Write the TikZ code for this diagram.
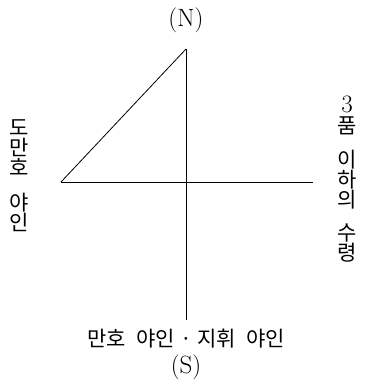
\documentclass[tikz,border=0pt]{standalone}
\usepackage{fontspec}
\newfontfamily\kr{Noto Sans CJK KR}
\tikzset{
  axis/.style={line width=0.8pt, black},
  krtext/.style={font=\kr\fontsize{21}{20}\selectfont, inner sep=0pt, align=center},
  dirlabel/.style={font=\fontsize{25}{27}\selectfont, inner sep=0pt}
}
\begin{document}
\begin{tikzpicture}[x=1pt,y=-1pt]
\useasboundingbox (0,0) rectangle (365,386);
\coordinate (top) at (186,49);
\coordinate (center) at (186,182);
\coordinate (bottom) at (186,320);
\coordinate (west) at (61,182);
\coordinate (east) at (313,182);
\draw[axis] (top) -- (bottom);
\draw[axis] (west) -- (east);
\draw[axis] (west) -- (top);
\node[dirlabel] (n) at (186,20) {(N)};
\node[dirlabel] (s) at (186,367) {(S)};
\node[krtext] (sl) at (186,339) {만호\hspace{0.5em}야인\hspace{0.25em}·\hspace{0.25em}지휘\hspace{0.5em}야인};
\node[krtext, anchor=north] (wl) at (19,119) {도\\만\\호\\[15pt]야\\인};
\node[font=\fontsize{25}{25}\selectfont, inner sep=0pt, anchor=south] (three) at (347,113) {3};
\node[krtext, anchor=north] (el) at (347,117) {품\\[14pt]이\\하\\의\\[13pt]수\\령};
\end{tikzpicture}
\end{document}
